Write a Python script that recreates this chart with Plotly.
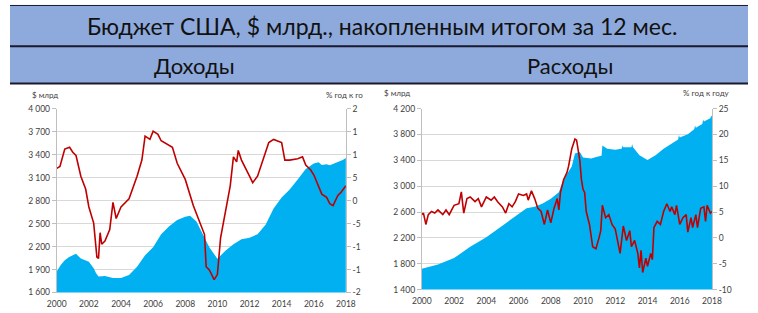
import plotly.graph_objects as go

W, H = 758, 313

# ---------------- DATA ----------------
title_text = "Бюджет США, $ млрд., накопленным итогом за 12 мес."
sub_left = "Доходы"
sub_right = "Расходы"

year_ticks = [2000, 2002, 2004, 2006, 2008, 2010, 2012, 2014, 2016, 2018]

# Revenue (left panel): 12m rolling sum, $ bn
rev_area_x = [2000.0, 2000.25, 2000.5, 2000.75, 2001.0, 2001.2, 2001.5, 2001.75, 2002.0, 2002.3,
              2002.45, 2002.6, 2003.0, 2003.5, 2004.0, 2004.5, 2005.0, 2005.5, 2006.0, 2006.5,
              2007.0, 2007.5, 2008.0, 2008.3, 2008.7, 2009.0, 2009.5, 2010.0, 2010.5, 2011.0,
              2011.5, 2012.0, 2012.5, 2013.0, 2013.5, 2014.0, 2014.5, 2015.0, 2015.5, 2016.0,
              2016.3, 2016.5, 2016.8, 2017.0, 2017.3, 2017.5, 2017.8, 2018.0]
rev_area_y = [1875, 1960, 2020, 2060, 2085, 2105, 2045, 2020, 2000, 1915,
              1850, 1810, 1815, 1790, 1790, 1830, 1935, 2085, 2190, 2360,
              2465, 2545, 2590, 2600, 2525, 2400, 2190, 2040, 2145, 2230,
              2295, 2315, 2360, 2485, 2695, 2840, 2945, 3075, 3210, 3285,
              3300, 3265, 3275, 3260, 3285, 3305, 3330, 3355]

# Revenue y/y, %
rev_line_x = [2000.0, 2000.2, 2000.5, 2000.8, 2001.0, 2001.2, 2001.5, 2001.8, 2002.0, 2002.3,
              2002.5, 2002.6, 2002.7, 2002.8, 2003.0, 2003.3, 2003.5, 2003.7, 2004.0, 2004.5,
              2005.0, 2005.3, 2005.5, 2005.8, 2006.0, 2006.3, 2006.5, 2007.0, 2007.2, 2007.5,
              2008.0, 2008.5, 2009.0, 2009.2, 2009.3, 2009.5, 2009.8, 2010.0, 2010.2, 2010.5,
              2010.8, 2011.0, 2011.2, 2011.3, 2011.5, 2012.0, 2012.2, 2012.5, 2013.0, 2013.2,
              2013.5, 2014.0, 2014.2, 2014.5, 2015.0, 2015.3, 2015.5, 2015.8, 2016.0, 2016.3,
              2016.5, 2016.8, 2017.0, 2017.2, 2017.5, 2017.7, 2017.9, 2018.0]
rev_line_y = [7.0, 7.4, 11.2, 11.6, 10.5, 9.8, 5.3, 2.5, -1.4, -4.9,
              -12.3, -12.6, -7.0, -9.5, -8.8, -6.3, -0.4, -3.9, -1.4, 0.4,
              5.3, 8.8, 14.0, 13.3, 15.1, 14.4, 13.0, 11.9, 11.6, 8.1,
              4.6, -1.1, -5.3, -7.4, -14.4, -15.1, -17.2, -16.1, -8.1, -2.5,
              3.2, 9.5, 8.4, 10.9, 8.8, 5.3, 3.9, 5.3, 10.2, 12.6,
              13.3, 12.6, 8.8, 8.8, 9.1, 9.5, 7.7, 6.7, 5.6, 3.2,
              1.4, 0.7, -0.7, -1.1, 1.1, 1.8, 2.6, 3.2]

# Outlays (right panel): 12m rolling sum, $ bn
out_area_x = [2000.0, 2001.0, 2002.0, 2003.0, 2004.0, 2005.0, 2006.0, 2006.5, 2007.0, 2007.5,
              2008.0, 2008.5, 2008.8, 2009.0, 2009.3, 2009.5, 2009.8, 2010.0, 2010.5, 2011.0,
              2011.15, 2011.2, 2011.5, 2012.0, 2012.4, 2012.45, 2012.5, 2013.0, 2013.05, 2013.1,
              2013.5, 2014.0, 2014.5, 2015.0, 2015.5, 2015.9, 2015.95, 2016.0, 2016.5, 2016.9,
              2016.95, 2017.0, 2017.4, 2017.45, 2017.5, 2017.9, 2017.95, 2018.0]
out_area_y = [1723, 1788, 1887, 2061, 2211, 2385, 2559, 2658, 2683, 2733,
              2807, 2907, 3106, 3180, 3305, 3504, 3528, 3444, 3429, 3464,
              3470, 3628, 3578, 3563, 3580, 3630, 3603, 3603, 3650, 3600,
              3479, 3404, 3479, 3578, 3653, 3720, 3790, 3752, 3802, 3880,
              3940, 3902, 3960, 4030, 4001, 4050, 4090, 4076]

# Outlays y/y, %
out_line_x = [2000.0, 2000.1, 2000.25, 2000.4, 2000.6, 2000.8, 2001.0, 2001.3, 2001.5, 2001.7,
              2001.9, 2002.0, 2002.3, 2002.45, 2002.6, 2002.8, 2003.0, 2003.3, 2003.5, 2003.7,
              2004.0, 2004.3, 2004.5, 2004.7, 2005.0, 2005.2, 2005.4, 2005.6, 2005.8, 2006.0,
              2006.3, 2006.5, 2006.6, 2006.8, 2007.0, 2007.2, 2007.4, 2007.6, 2007.8, 2008.0,
              2008.2, 2008.4, 2008.5, 2008.6, 2008.8, 2009.0, 2009.1, 2009.3, 2009.5, 2009.6,
              2009.8, 2009.9, 2010.0, 2010.1, 2010.2, 2010.4, 2010.6, 2010.8, 2011.0, 2011.1,
              2011.2, 2011.4, 2011.6, 2011.8, 2012.0, 2012.2, 2012.3, 2012.5, 2012.7, 2012.9,
              2013.0, 2013.2, 2013.4, 2013.5, 2013.6, 2013.7, 2013.9, 2014.0, 2014.2, 2014.3,
              2014.4, 2014.6, 2014.8, 2015.0, 2015.2, 2015.4, 2015.5, 2015.7, 2015.8, 2016.0,
              2016.2, 2016.4, 2016.5, 2016.7, 2016.8, 2017.0, 2017.1, 2017.3, 2017.5, 2017.6,
              2017.7, 2017.9, 2018.0]
out_line_y = [4.5, 4.8, 2.6, 4.5, 5.1, 4.8, 5.4, 4.5, 5.4, 4.5,
              5.7, 6.3, 6.6, 8.9, 4.8, 7.6, 7.9, 7.0, 7.6, 6.0,
              7.9, 7.3, 7.9, 7.0, 6.0, 4.8, 6.6, 6.0, 7.0, 8.5,
              8.2, 8.5, 7.3, 9.1, 7.6, 5.7, 5.1, 2.6, 5.4, 2.9,
              5.7, 7.6, 5.4, 8.8, 11.3, 12.6, 13.8, 17.2, 19.1, 18.9,
              15.0, 11.3, 9.4, 8.8, 5.1, 2.6, -1.7, -2.1, 0.1, 1.4,
              6.3, 3.9, 4.5, 2.6, 1.7, -1.1, -3.0, 2.3, -0.5, 1.4,
              -1.7, -0.5, -3.0, -5.8, -2.4, -6.7, -3.9, -5.5, -3.0, -4.2,
              2.0, 3.2, 2.6, 5.1, 6.6, 5.1, 6.0, 4.5, 6.3, 2.6,
              3.9, 4.5, 1.1, 3.9, 2.0, 4.5, 2.0, 5.7, 6.0, 3.2,
              6.3, 4.8, 5.1]

left_y_ticks = [1600, 1900, 2200, 2500, 2800, 3100, 3400, 3700, 4000]
left_y2_ticks = [-20, -15, -10, -5, 0, 5, 10, 15, 20]
left_y2_text = ["-2", "-1", "-1", "-5", "0", "5", "1", "1", "2"]   # clipped at panel edge
right_y_ticks = [1400, 1800, 2200, 2600, 3000, 3400, 3800, 4200]
right_y2_ticks = [-10, -5, 0, 5, 10, 15, 20, 25]

# ---------------- STYLE ----------------
AREA = "#00B0F0"
LINE = "#C00000"
GRID = "#D9D9D9"
AXC = "#BFBFBF"
TXT = "#404040"
FONT = "Lato"
BAND = "#8EA9DB"


def fmt(v):
    return f"{v:,}".replace(",", " ")


def px_x(p):
    return p / W


def px_y(p):
    return 1 - p / H


fig = go.Figure()

fig.add_trace(go.Scatter(x=rev_area_x, y=rev_area_y, mode="lines", fill="tozeroy",
                         fillcolor=AREA, line=dict(width=0, color=AREA),
                         xaxis="x", yaxis="y", showlegend=False, hoverinfo="skip"))
fig.add_trace(go.Scatter(x=rev_line_x, y=rev_line_y, mode="lines",
                         line=dict(width=1.6, color=LINE),
                         xaxis="x", yaxis="y2", showlegend=False))
fig.add_trace(go.Scatter(x=out_area_x, y=out_area_y, mode="lines", fill="tozeroy",
                         fillcolor=AREA, line=dict(width=0, color=AREA),
                         xaxis="x2", yaxis="y3", showlegend=False, hoverinfo="skip"))
fig.add_trace(go.Scatter(x=out_line_x, y=out_line_y, mode="lines",
                         line=dict(width=1.6, color=LINE),
                         xaxis="x2", yaxis="y4", showlegend=False))

tickfont = dict(family=FONT, size=8.5, color=TXT)

xdom_l = [px_x(48), px_x(345)]
xdom_r = [px_x(423), px_x(721)]
ydom_l = [px_y(297), px_y(107)]
ydom_r = [px_y(294), px_y(107)]

xcommon = dict(range=[2000, 2018], tickvals=year_ticks, ticktext=[str(v) for v in year_ticks],
               showgrid=False, zeroline=False, showline=False, ticks="",
               tickfont=tickfont, ticklabelstandoff=5, fixedrange=True)

fig.update_layout(
    width=W, height=H,
    margin=dict(l=0, r=0, t=0, b=0),
    paper_bgcolor="white", plot_bgcolor="white",
    xaxis=dict(domain=xdom_l, anchor="y", **xcommon),
    xaxis2=dict(domain=xdom_r, anchor="y3", **xcommon),
    yaxis=dict(domain=ydom_l, anchor="x", range=[1600, 4000], tickvals=left_y_ticks,
               ticktext=[fmt(v) for v in left_y_ticks], showgrid=True, gridcolor=GRID,
               gridwidth=1, zeroline=False, showline=True, linecolor=AXC, linewidth=1,
               ticks="outside", ticklen=4, tickcolor=AXC, tickfont=tickfont),
    yaxis2=dict(domain=ydom_l, anchor="x", overlaying="y", side="right", range=[-20, 20],
                tickvals=left_y2_ticks, ticktext=left_y2_text, showgrid=False, zeroline=False,
                showline=True, linecolor=AXC, linewidth=1, ticks="outside", ticklen=4,
                tickcolor=AXC, tickfont=tickfont),
    yaxis3=dict(domain=ydom_r, anchor="x2", range=[1400, 4200], tickvals=right_y_ticks,
                ticktext=[fmt(v) for v in right_y_ticks], showgrid=True, gridcolor=GRID,
                gridwidth=1, zeroline=False, showline=True, linecolor=AXC, linewidth=1,
                ticks="outside", ticklen=4, tickcolor=AXC, tickfont=tickfont),
    yaxis4=dict(domain=ydom_r, anchor="x2", overlaying="y3", side="right", range=[-10, 25],
                tickvals=right_y2_ticks, ticktext=[str(v) for v in right_y2_ticks],
                showgrid=False, zeroline=False, showline=True, linecolor=AXC, linewidth=1,
                ticks="outside", ticklen=4, tickcolor=AXC, tickfont=tickfont),
)

# header band
shapes = [
    dict(type="rect", xref="paper", yref="paper", x0=0, x1=1, y0=px_y(81), y1=1,
         fillcolor=BAND, line=dict(width=0), layer="below"),
    dict(type="line", xref="paper", yref="paper", x0=0, x1=1, y0=px_y(0.5), y1=px_y(0.5),
         line=dict(color="#1A1A2E", width=1)),
    dict(type="line", xref="paper", yref="paper", x0=0, x1=1, y0=px_y(42.5), y1=px_y(42.5),
         line=dict(color="#1A1A2E", width=2)),
    dict(type="line", xref="paper", yref="paper", x0=0, x1=1, y0=px_y(81), y1=px_y(81),
         line=dict(color="#1A1A2E", width=2)),
]
fig.update_layout(shapes=shapes)

ann = []
ann.append(dict(text=title_text, x=px_x(382), y=px_y(22), xref="paper", yref="paper",
                showarrow=False, xanchor="center", yanchor="middle",
                font=dict(family=FONT, size=23, color="#111111")))
ann.append(dict(text=sub_left, x=px_x(189), y=px_y(62), xref="paper", yref="paper",
                showarrow=False, xanchor="center", yanchor="middle",
                font=dict(family=FONT, size=22, color="#111111")))
ann.append(dict(text=sub_right, x=px_x(575), y=px_y(62), xref="paper", yref="paper",
                showarrow=False, xanchor="center", yanchor="middle",
                font=dict(family=FONT, size=22, color="#111111")))
small = dict(family=FONT, size=8, color=TXT)
ann.append(dict(text="$ млрд", x=px_x(21), y=px_y(93), xref="paper", yref="paper",
                showarrow=False, xanchor="left", yanchor="middle", font=small))
ann.append(dict(text="% год к го", x=px_x(322), y=px_y(93), xref="paper", yref="paper",
                showarrow=False, xanchor="left", yanchor="middle", font=small))
ann.append(dict(text="$ млрд", x=px_x(382), y=px_y(91), xref="paper", yref="paper",
                showarrow=False, xanchor="left", yanchor="middle", font=small))
ann.append(dict(text="% год к году", x=px_x(741), y=px_y(91), xref="paper", yref="paper",
                showarrow=False, xanchor="right", yanchor="middle", font=small))
fig.update_layout(annotations=ann)

fig.write_html("out.html")
